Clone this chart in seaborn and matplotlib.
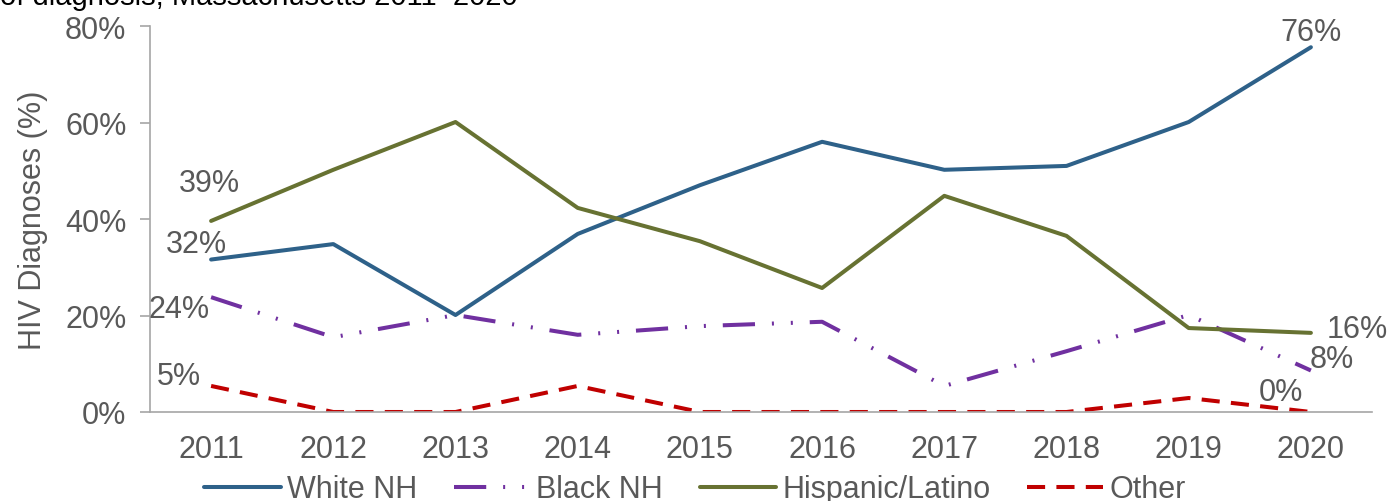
import pandas as pd
import matplotlib.pyplot as plt
import seaborn as sns

years = ['2011', '2012', '2013', '2014', '2015', '2016', '2017', '2018', '2019', '2020']
white_nh = [31.6, 34.8, 20.1, 36.9, 47.0, 56.0, 50.2, 51.0, 60.1, 75.6]
black_nh = [23.8, 15.5, 20.1, 16.0, 17.8, 18.7, 5.4, 12.6, 20.1, 8.6]
hispanic = [39.6, 50.2, 60.1, 42.3, 35.4, 25.7, 44.8, 36.5, 17.4, 16.4]
other = [5.4, 0.0, 0.0, 5.4, 0.0, 0.0, 0.0, 0.0, 2.9, 0.0]
groups = ['White NH', 'Black NH', 'Hispanic/Latino', 'Other']

df = pd.DataFrame({
    'x': list(range(len(years))) * 4,
    'value': white_nh + black_nh + hispanic + other,
    'group': [g for g in groups for _ in years],
})

sns.set_theme(style='white')
plt.rcParams['font.family'] = ['Liberation Sans', 'DejaVu Sans']
grey = '#595959'
fs = 22

palette = {'White NH': '#2E6189', 'Black NH': '#7030A0',
           'Hispanic/Latino': '#677232', 'Other': '#C00000'}
dashes = {'White NH': '', 'Black NH': (8, 4.2, 0.5, 4.2, 0.5, 4.2),
          'Hispanic/Latino': '', 'Other': (4.5, 2.8)}

fig = plt.figure(figsize=(13.88, 5.02), dpi=100)
ax = fig.add_axes([150 / 1388, 1 - 413 / 502, 1222 / 1388, 386 / 502])
sns.lineplot(data=df, x='x', y='value', hue='group', style='group',
             palette=palette, dashes=dashes, linewidth=2.9, ax=ax)

ax.set_xlim(-0.5, 9.5)
ax.set_ylim(0, 80)
ax.set_yticks([0, 20, 40, 60, 80])
ax.set_yticklabels([f'{v}%' for v in [0, 20, 40, 60, 80]])
ax.set_xticks(range(len(years)))
ax.set_xticklabels(years)
ax.set_xticks([i - 0.5 for i in range(len(years) + 1)], minor=True)
ax.tick_params(axis='x', which='major', length=0, pad=16, labelsize=fs, labelcolor=grey)
ax.tick_params(axis='x', which='minor', length=10, width=1.2, color='#A6A6A6', direction='out')
ax.tick_params(axis='y', length=7, width=1.2, color='#A6A6A6', direction='out',
               left=True, labelsize=fs, labelcolor=grey, pad=10)
for side in ['top', 'right']:
    ax.spines[side].set_visible(False)
for side in ['left', 'bottom']:
    ax.spines[side].set_color('#A6A6A6')
    ax.spines[side].set_linewidth(1.2)
ax.set_xlabel('')
ax.set_ylabel('HIV Diagnoses (%)', fontsize=fs, color=grey, labelpad=12)

# data labels at first and last year
labels = [
    (0, white_nh[0], '32%', (-15, 16)),
    (0, hispanic[0], '39%', (-2, 38)),
    (0, black_nh[0], '24%', (-32, -12)),
    (0, other[0], '5%', (-32, 10)),
    (9, white_nh[9], '76%', (0, 15)),
    (9, hispanic[9], '16%', (46, 4)),
    (9, black_nh[9], '8%', (21, 12)),
    (9, other[9], '0%', (-30, 20)),
]
for x, y, t, off in labels:
    ax.annotate(t, (x, y), xytext=off, textcoords='offset pixels',
                ha='center', va='center', fontsize=fs, color=grey,
                annotation_clip=False)

sns.move_legend(ax, 'center', bbox_to_anchor=(0.446, -0.2), ncol=4,
                frameon=False, title=None, fontsize=fs, handlelength=2.5,
                columnspacing=1.2, handletextpad=0.2)
for t in ax.get_legend().get_texts():
    t.set_color(grey)

fig.text(0.0, 1.005, 'of diagnosis, Massachusetts 2011\u20132020', fontsize=21,
         color='black', ha='left', va='center')

fig.savefig('out.png', dpi=100)
